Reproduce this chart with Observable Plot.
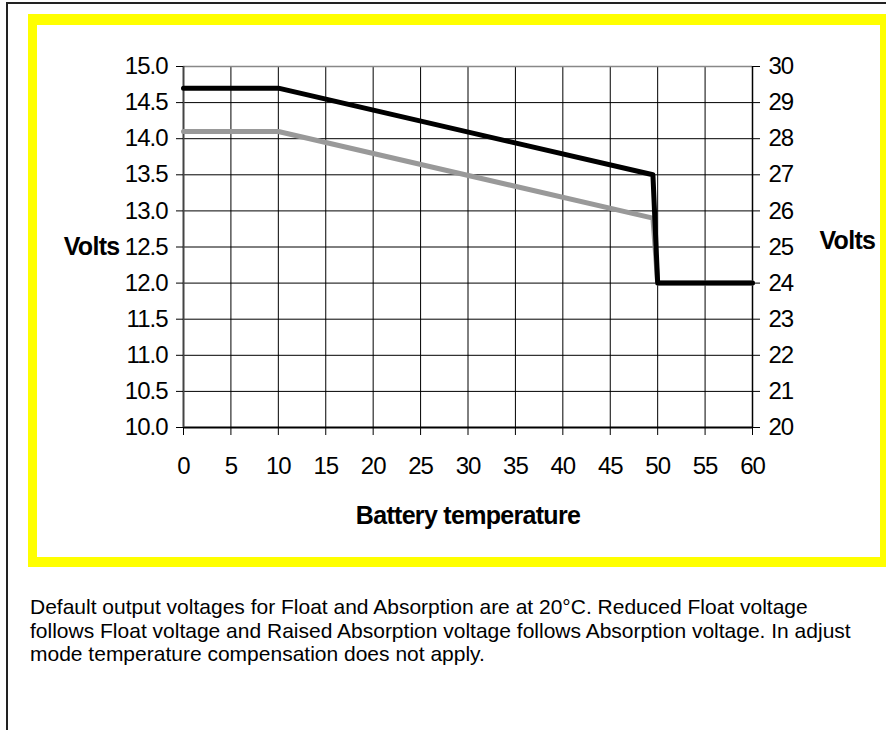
<!DOCTYPE html>
<html>
<head>
<meta charset="utf-8">
<script src="https://cdn.jsdelivr.net/npm/d3@7"></script>
<script src="https://cdn.jsdelivr.net/npm/@observablehq/plot@0.6"></script>
<style>
  html, body { margin: 0; padding: 0; background: #fff; overflow: hidden; width: 886px; height: 730px; }
  #frame { position: absolute; left: 6px; top: 2px; width: 900px; height: 760px; border-left: 2px solid #222; border-top: 2px solid #222; box-sizing: border-box; }
  #yellow { position: absolute; left: 28px; top: 14px; width: 862px; height: 553px; border-style: solid; border-color: #ffff00; border-width: 11px 10px 10px 9px; box-sizing: border-box; z-index: 2; }
  #chart { position: absolute; left: 0; top: 0; z-index: 1; }
  #chart g[aria-label*="tick label"] text { letter-spacing: -1px; }
  #chart g[aria-label="text"] text { letter-spacing: -0.7px; }
  #caption { position: absolute; left: 30px; top: 595px; font-family: "Liberation Sans", Arial, sans-serif; font-size: 21px; line-height: 23.5px; color: #000; white-space: pre; }
</style>
</head>
<body>
<div id="frame"></div>
<div id="chart"></div>
<div id="yellow"></div>
<div id="caption"></div>
<script>
// Data
const temps = [0, 10, 49.5, 50, 60];
const absorptionVolts = [14.7, 14.7, 13.5, 12.0, 12.0];
const floatVolts = [14.1, 14.1, 12.9, 12.0, 12.0];
const xTicks = [0, 5, 10, 15, 20, 25, 30, 35, 40, 45, 50, 55, 60];
const leftTicks = [10.0, 10.5, 11.0, 11.5, 12.0, 12.5, 13.0, 13.5, 14.0, 14.5, 15.0];
const rightTickLabels = [20, 21, 22, 23, 24, 25, 26, 27, 28, 29, 30];
const xTitle = "Battery temperature";
const yTitle = "Volts";
const captionLines = [
  "Default output voltages for Float and Absorption are at 20°C. Reduced Float voltage",
  "follows Float voltage and Raised Absorption voltage follows Absorption voltage. In adjust",
  "mode temperature compensation does not apply."
];

const idx = temps.map((_, i) => i);
const rightTickValues = rightTickLabels.map(v => v / 2);

const chart = Plot.plot({
  width: 886,
  height: 560,
  marginLeft: 183,
  marginRight: 134,
  marginTop: 66,
  marginBottom: 133,
  style: { background: "transparent", fontFamily: "'Liberation Sans', Arial, sans-serif", fontSize: "24px", color: "#000", overflow: "visible" },
  x: { domain: [0, 60] },
  y: { domain: [10, 15] },
  marks: [
    Plot.gridX(xTicks, { stroke: "#000", strokeOpacity: 1, strokeWidth: 1 }),
    Plot.gridY(leftTicks, { stroke: "#000", strokeOpacity: 1, strokeWidth: 1 }),
    Plot.ruleY([15], { stroke: "#888", strokeWidth: 1.5 }),
    Plot.ruleX([60], { stroke: "#000", strokeWidth: 1.5 }),
    Plot.ruleY([10], { stroke: "#000", strokeWidth: 2 }),
    Plot.ruleX([0], { stroke: "#444", strokeWidth: 2 }),
    Plot.axisX({ ticks: xTicks, tickSize: 8, tickPadding: 21, label: null, fontSize: 24 }),
    Plot.axisY({ anchor: "left", ticks: leftTicks, tickFormat: d => d.toFixed(1), tickSize: 7, tickPadding: 9, label: null, fontSize: 24 }),
    Plot.axisY({ anchor: "right", ticks: rightTickValues, tickFormat: (d, i) => String(rightTickLabels[i]), tickSize: 7, tickPadding: 9, label: null, fontSize: 24 }),
    Plot.line(idx, { x: i => temps[i], y: i => floatVolts[i], stroke: "#999", strokeWidth: 5 }),
    Plot.line(idx, { x: i => temps[i], y: i => absorptionVolts[i], stroke: "#000", strokeWidth: 5 }),
    Plot.text([yTitle], { text: d => d, y: () => 12.5, frameAnchor: "left", dx: -64, textAnchor: "end", fontWeight: "bold", fontSize: 25 }),
    Plot.text([yTitle], { text: d => d, y: () => 12.5, frameAnchor: "right", dx: 67, dy: -6, textAnchor: "start", fontWeight: "bold", fontSize: 25 }),
    Plot.text([xTitle], { text: d => d, frameAnchor: "bottom", dy: 96, fontWeight: "bold", fontSize: 25 })
  ]
});
document.getElementById("chart").appendChild(chart);
document.getElementById("caption").textContent = captionLines.join("\n");
</script>
</body>
</html>
